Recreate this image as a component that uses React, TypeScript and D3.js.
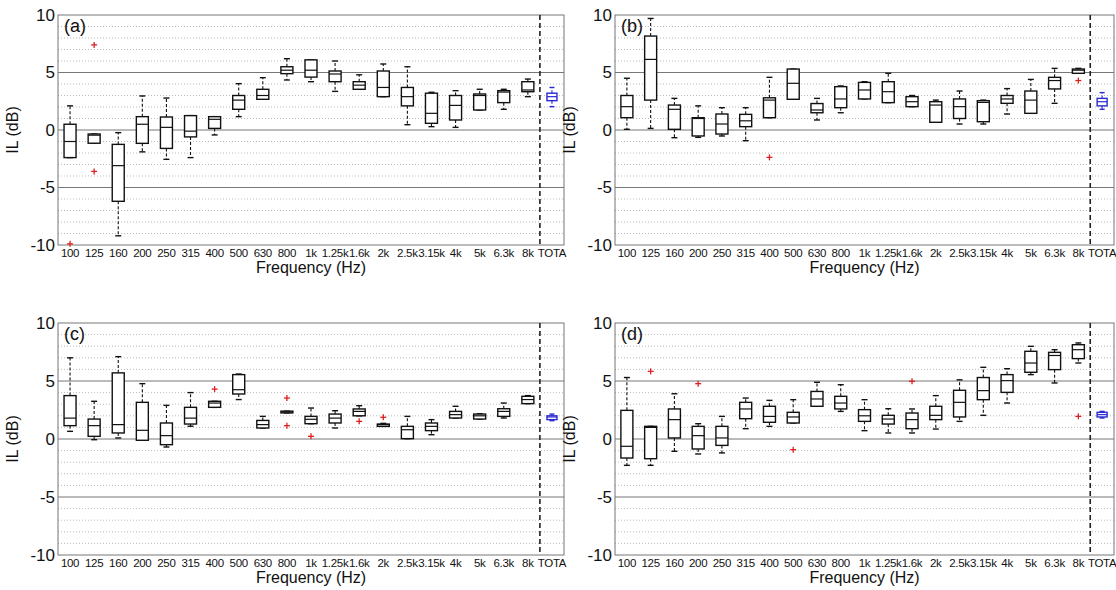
import React from 'react';
import * as d3 from 'd3';

const categories = ['100', '125', '160', '200', '250', '315', '400', '500', '630', '800', '1k', '1.25k', '1.6k', '2k', '2.5k', '3.15k', '4k', '5k', '6.3k', '8k', 'TOTA'];
const yTicks = [10, 5, 0, -5, -10];
const minorTicks = d3.range(-9, 10).filter(v => v % 5 !== 0);

// [low whisker, q1, median, q3, high whisker] per category
const boxesA = [
  [-2.4, -2.4, -1.0, 0.5, 2.1], [-1.15, -1.15, -0.45, -0.35, -0.35], [-9.2, -6.2, -3.1, -1.25, -0.23],
  [-1.9, -1.16, 0.5, 1.16, 2.96], [-2.55, -1.6, 0.23, 1.13, 2.78], [-2.4, -0.6, -0.1, 1.25, 1.25],
  [-0.43, 0.14, 0.93, 1.16, 1.16], [1.16, 1.8, 2.6, 3.0, 4.03], [2.67, 2.67, 3.0, 3.54, 4.55],
  [4.35, 4.9, 5.2, 5.5, 6.2], [4.2, 4.6, 5.2, 6.1, 6.1], [3.36, 4.2, 4.87, 5.13, 6.0],
  [3.54, 3.54, 3.9, 4.2, 4.8], [2.9, 2.9, 3.7, 5.13, 5.74], [0.46, 2.1, 2.9, 3.7, 5.5],
  [0.29, 0.58, 1.45, 3.2, 3.28], [0.23, 0.87, 2.14, 3.0, 3.42], [1.74, 1.74, 3.0, 3.13, 3.54],
  [1.8, 2.38, 3.3, 3.42, 3.54], [2.9, 3.33, 3.48, 4.2, 4.43], [2.03, 2.55, 2.9, 3.2, 3.7],
];
const outliersA = [['100', -9.9], ['125', 7.4], ['125', -3.6]];

const boxesB = [
  [0.06, 1.07, 2.03, 3.0, 4.5], [0.14, 2.6, 6.14, 8.17, 9.7], [-0.67, 0.06, 1.8, 2.17, 2.75],
  [-0.64, -0.52, 1.0, 1.07, 2.1], [-0.52, -0.35, 0.52, 1.39, 1.94], [-0.93, 0.29, 0.8, 1.36, 1.94],
  [1.07, 1.07, 2.6, 2.8, 4.58], [2.67, 2.67, 4.06, 5.3, 5.3], [0.87, 1.5, 1.74, 2.3, 2.75],
  [1.5, 1.94, 2.7, 3.77, 3.83], [2.7, 2.7, 3.48, 4.14, 4.2], [2.38, 2.38, 3.33, 4.2, 4.93],
  [2.03, 2.03, 2.46, 2.9, 3.0], [0.67, 0.67, 2.17, 2.46, 2.6], [0.52, 1.0, 2.03, 2.7, 3.39],
  [0.52, 0.72, 2.4, 2.55, 2.6], [1.39, 2.32, 2.7, 3.0, 3.6], [1.45, 1.45, 2.6, 3.39, 4.4],
  [2.32, 3.57, 4.3, 4.58, 5.36], [4.93, 4.93, 5.2, 5.3, 5.36], [1.8, 2.1, 2.46, 2.75, 3.25],
];
const outliersB = [['400', -2.38], ['8k', 4.3]];

const boxesC = [
  [0.66, 1.15, 1.8, 3.74, 7.0], [-0.06, 0.23, 1.15, 1.72, 3.25], [0.09, 0.52, 1.24, 5.7, 7.1],
  [-0.11, -0.11, 0.75, 3.16, 4.77], [-0.69, -0.49, 0.29, 1.38, 2.9], [1.1, 1.29, 1.8, 2.73, 4.0],
  [2.73, 2.73, 3.1, 3.25, 3.25], [3.4, 3.88, 4.25, 5.55, 5.6], [0.95, 0.95, 1.24, 1.6, 1.95],
  [2.25, 2.25, 2.33, 2.4, 2.4], [1.32, 1.32, 1.7, 1.95, 2.67], [0.95, 1.38, 1.8, 2.15, 2.44],
  [2.0, 2.0, 2.38, 2.59, 2.87], [1.09, 1.09, 1.24, 1.29, 1.35], [0.03, 0.03, 0.8, 1.09, 1.95],
  [0.37, 0.72, 1.09, 1.38, 1.67], [1.81, 1.81, 2.1, 2.38, 2.82], [1.72, 1.72, 2.0, 2.15, 2.18],
  [1.81, 1.95, 2.38, 2.61, 3.1], [3.05, 3.05, 3.4, 3.68, 3.74], [1.58, 1.67, 1.9, 2.0, 2.15],
];
const outliersC = [['400', 4.3], ['800', 3.53], ['800', 1.15], ['1k', 0.23], ['1.6k', 1.52], ['2k', 1.87]];

const boxesD = [
  [-2.27, -1.64, -0.63, 2.47, 5.3], [-2.27, -1.7, 1.0, 1.09, 1.09], [-1.06, 0.09, 1.67, 2.59, 3.9],
  [-1.29, -0.86, 0.29, 1.09, 1.32], [-1.2, -0.55, 0.09, 1.09, 1.95], [0.89, 1.75, 2.59, 3.16, 3.53],
  [1.09, 1.44, 1.95, 2.82, 3.33], [1.38, 1.38, 1.9, 2.3, 3.39], [2.82, 2.82, 3.45, 4.1, 4.89],
  [2.38, 2.59, 3.1, 3.68, 4.68], [0.72, 1.52, 2.0, 2.53, 3.39], [0.52, 1.29, 1.72, 2.04, 2.61],
  [0.52, 0.89, 1.67, 2.24, 2.59], [0.86, 1.67, 2.04, 2.82, 3.74], [1.52, 1.9, 3.16, 4.2, 5.1],
  [2.04, 3.39, 4.17, 5.3, 6.18], [3.1, 4.02, 5.03, 5.55, 6.06], [5.55, 5.75, 6.55, 7.56, 7.99],
  [4.83, 5.98, 7.2, 7.47, 7.7], [6.55, 6.93, 7.7, 8.13, 8.28], [1.81, 1.9, 2.1, 2.3, 2.38],
];
const outliersD = [['125', 5.83], ['200', 4.77], ['500', -0.92], ['1.6k', 4.97], ['8k', 1.95]];

const FONT = 'Liberation Sans, Arial, Helvetica, sans-serif';

type PanelProps = {
  left: number; right: number; top: number; bottom: number;
  boxes: number[][]; outliers: (string | number)[][]; tag: string;
};

const Panel = ({ left, right, top, bottom, boxes, outliers, tag }: PanelProps) => {
  const x = d3.scaleBand().domain(categories).range([left, right]).padding(0);
  const y = d3.scaleLinear().domain([-10, 10]).range([bottom, top]);
  const cx = (c: string) => (x(c) || 0) + x.bandwidth() / 2;
  const sepX = x('TOTA') || 0;

  return (
    <g>
      {/* dotted minor grid */}
      {minorTicks.map(v => (
        <line key={'m' + v} x1={left} x2={right} y1={y(v)} y2={y(v)}
          stroke="#aaa" strokeWidth={0.8} strokeDasharray="1,2" />
      ))}
      {[-5, 0, 5].map(v => (
        <line key={'g' + v} x1={left} x2={right} y1={y(v)} y2={y(v)} stroke="#777" strokeWidth={1} />
      ))}
      <rect x={left} y={top} width={right - left} height={bottom - top} fill="none" stroke="#777" strokeWidth={1} />

      {/* separator before TOTA */}
      <line x1={sepX} x2={sepX} y1={top} y2={bottom} stroke="#222" strokeWidth={1.6} strokeDasharray="5,3" />

      {boxes.map((b, i) => {
        const c = categories[i];
        const xc = cx(c);
        const total = c === 'TOTA';
        const col = total ? '#2a2ad0' : '#111';
        const bw = total ? 10 : 12;
        const cw = bw / 2;
        const [lo, q1, med, q3, hi] = b;
        return (
          <g key={c} stroke={col} fill="none">
            <line x1={xc} x2={xc} y1={y(q3)} y2={y(hi)} strokeWidth={1.1} strokeDasharray="3,2" />
            <line x1={xc} x2={xc} y1={y(q1)} y2={y(lo)} strokeWidth={1.1} strokeDasharray="3,2" />
            <line x1={xc - cw / 2} x2={xc + cw / 2} y1={y(hi)} y2={y(hi)} strokeWidth={1.4} />
            <line x1={xc - cw / 2} x2={xc + cw / 2} y1={y(lo)} y2={y(lo)} strokeWidth={1.4} />
            <rect x={xc - bw / 2} y={y(q3)} width={bw} height={Math.max(y(q1) - y(q3), 1)}
              fill="#fff" strokeWidth={1.4} />
            <line x1={xc - bw / 2} x2={xc + bw / 2} y1={y(med)} y2={y(med)} strokeWidth={1.2} />
          </g>
        );
      })}

      {outliers.map((o, i) => {
        const xc = cx(o[0] as string);
        const yc = y(o[1] as number);
        return (
          <g key={'o' + i} stroke="#e02020" strokeWidth={1.3}>
            <line x1={xc - 3} x2={xc + 3} y1={yc} y2={yc} />
            <line x1={xc} x2={xc} y1={yc - 3} y2={yc + 3} />
          </g>
        );
      })}

      {/* y tick labels */}
      {yTicks.map(v => (
        <text key={'t' + v} x={left - 3} y={y(v)} dy="0.35em" textAnchor="end"
          fontFamily={FONT} fontSize={17} fill="#111">{v}</text>
      ))}
      {/* x tick labels */}
      {categories.map(c => (
        <text key={'x' + c} x={cx(c)} y={bottom + 12} textAnchor="middle"
          fontFamily={FONT} fontSize={11.5} fill="#111" textLength={c.length > 3 ? undefined : undefined}
          style={{ letterSpacing: '-0.3px' }}>{c}</text>
      ))}
      <text x={(left + right) / 2} y={bottom + 28} textAnchor="middle" fontFamily={FONT} fontSize={16} fill="#111">
        Frequency (Hz)
      </text>
      <text transform={`translate(${left - 40},${(top + bottom) / 2}) rotate(-90)`} textAnchor="middle"
        fontFamily={FONT} fontSize={16} fill="#111">IL (dB)</text>
      <text x={left + 6} y={top + 17} fontFamily={FONT} fontSize={18} fill="#111">{tag}</text>
    </g>
  );
};

export default function App() {
  return (
    <svg width={1116} height={590} style={{ position: 'absolute', left: 0, top: 0, background: '#fff' }}>
      <Panel left={58} right={564} top={15} bottom={245} boxes={boxesA} outliers={outliersA} tag="(a)" />
      <Panel left={615} right={1114} top={15} bottom={245} boxes={boxesB} outliers={outliersB} tag="(b)" />
      <Panel left={58} right={564} top={323} bottom={555} boxes={boxesC} outliers={outliersC} tag="(c)" />
      <Panel left={615} right={1114} top={323} bottom={555} boxes={boxesD} outliers={outliersD} tag="(d)" />
    </svg>
  );
}
